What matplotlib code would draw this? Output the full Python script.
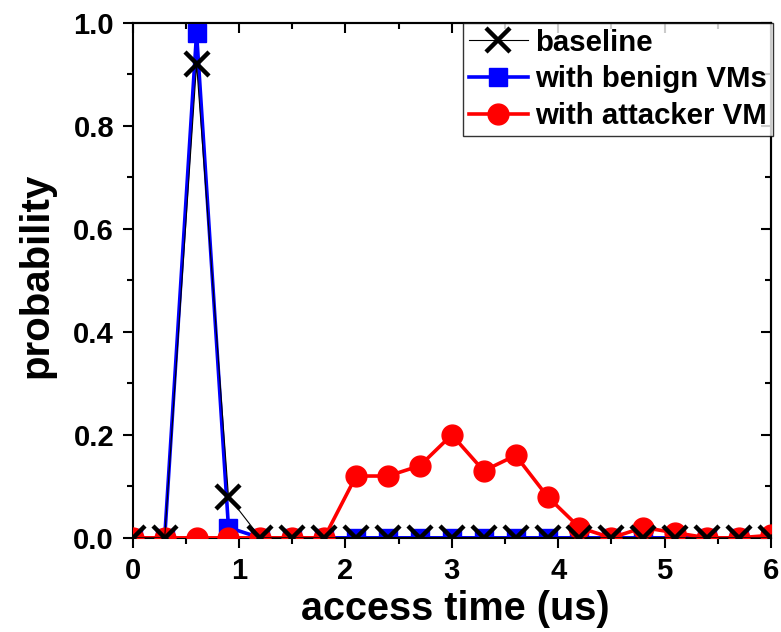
import matplotlib
matplotlib.use("Agg")
import matplotlib.pyplot as plt
from matplotlib.ticker import MultipleLocator

plt.rcParams['font.family'] = ['Liberation Sans', 'DejaVu Sans']
plt.rcParams['font.weight'] = 'bold'

x = [0.0, 0.3, 0.6, 0.9, 1.2, 1.5, 1.8, 2.1, 2.4, 2.7, 3.0, 3.3, 3.6, 3.9, 4.2, 4.5, 4.8, 5.1, 5.4, 5.7, 6.0]
baseline = [0, 0, 0.92, 0.08, 0, 0, 0, 0, 0, 0, 0, 0, 0, 0, 0, 0, 0, 0, 0, 0, 0]
benign = [0, 0, 0.98, 0.02, 0, 0, 0, 0, 0, 0, 0, 0, 0, 0, 0, 0, 0, 0, 0, 0, 0]
attacker = [0, 0, 0, 0, 0, 0, 0, 0.12, 0.12, 0.14, 0.20, 0.13, 0.16, 0.08, 0.02, 0.0, 0.02, 0.01, 0.0, 0.0, 0.005]

fig = plt.figure(figsize=(7.81, 6.32), dpi=100)
ax = fig.add_axes([0.170, 0.149, 0.817, 0.815])

ax.plot(x, benign, color='#0000ff', lw=2.6, marker='s', ms=13, zorder=2,
        label='with benign VMs')
ax.plot(x, attacker, color='#ff0000', lw=2.6, marker='o', ms=15, zorder=3,
        label='with attacker VM')
ax.plot(x, baseline, color='black', lw=0.8, marker='x', ms=17, mew=3.2, zorder=4,
        label='baseline')

ax.set_xlim(0, 6)
ax.set_ylim(0, 1.0)
ax.xaxis.set_major_locator(MultipleLocator(1))
ax.xaxis.set_minor_locator(MultipleLocator(0.5))
ax.yaxis.set_major_locator(MultipleLocator(0.2))
ax.yaxis.set_minor_locator(MultipleLocator(0.1))
ax.yaxis.set_major_formatter(matplotlib.ticker.FormatStrFormatter('%.1f'))

for s in ax.spines.values():
    s.set_linewidth(1.5)

ax.tick_params(which='major', direction='out', length=7.5, width=1.5,
               labelsize=21, pad=6)
ax.tick_params(which='minor', direction='out', length=4, width=1.5)

secx = ax.secondary_xaxis('top')
secx.xaxis.set_major_locator(MultipleLocator(1))
secx.xaxis.set_minor_locator(MultipleLocator(0.5))
secx.tick_params(which='major', direction='in', length=7.5, width=1.5, labeltop=False)
secx.tick_params(which='minor', direction='in', length=4, width=1.5)
secx.spines['top'].set_linewidth(1.5)

secy = ax.secondary_yaxis('right')
secy.yaxis.set_major_locator(MultipleLocator(0.2))
secy.yaxis.set_minor_locator(MultipleLocator(0.1))
secy.tick_params(which='major', direction='in', length=7.5, width=1.5, labelright=False)
secy.tick_params(which='minor', direction='in', length=4, width=1.5)
secy.spines['right'].set_linewidth(1.5)

for lab in ax.get_xticklabels() + ax.get_yticklabels():
    lab.set_fontweight('bold')

ax.set_xlabel('access time (us)', fontsize=28.5, fontweight='bold')
ax.set_ylabel('probability', fontsize=29, fontweight='bold')
ax.xaxis.set_label_coords(0.505, -0.102)
ax.yaxis.set_label_coords(-0.122, 0.51)

handles, labels = ax.get_legend_handles_labels()
order = [2, 0, 1]
leg = ax.legend([handles[i] for i in order], [labels[i] for i in order],
                loc='upper right', bbox_to_anchor=(1.003, 1.0), borderaxespad=0,
                prop={'weight': 'bold', 'size': 21.2},
                frameon=True, fancybox=False, edgecolor='black',
                handlelength=2.0, handletextpad=0.25, labelspacing=0.3,
                borderpad=0.2)
leg.get_frame().set_linewidth(1.0)
leg.set_zorder(10)

fig.savefig('out.png', dpi=100)
